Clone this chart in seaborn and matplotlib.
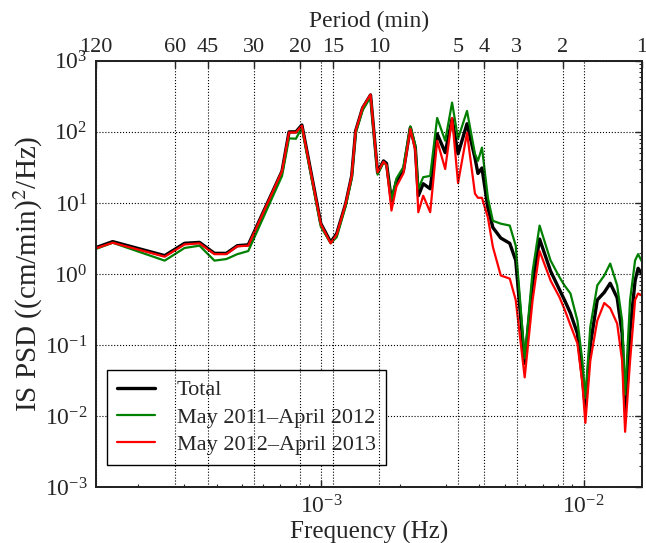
import numpy as np
import pandas as pd
import matplotlib
matplotlib.use("Agg")
import matplotlib.pyplot as plt
import seaborn as sns

# Frequency (Hz) of each read point
freq = [1.389e-4, 1.608e-4, 2.537e-4, 3.020e-4, 3.443e-4, 3.925e-4, 4.357e-4, 4.797e-4,
        5.280e-4, 7.10e-4, 7.55e-4, 8.02e-4, 8.45e-4, 9.98e-4, 1.088e-3, 1.147e-3,
        1.241e-3, 1.308e-3, 1.354e-3, 1.439e-3, 1.543e-3, 1.641e-3, 1.729e-3, 1.775e-3,
        1.854e-3, 1.936e-3, 2.058e-3, 2.188e-3, 2.285e-3, 2.346e-3, 2.449e-3, 2.604e-3,
        2.768e-3, 2.970e-3, 3.155e-3, 3.324e-3, 3.596e-3, 3.856e-3, 3.958e-3, 4.100e-3,
        4.320e-3, 4.512e-3, 4.836e-3, 5.232e-3, 5.513e-3, 5.964e-3, 6.394e-3, 6.796e-3,
        7.482e-3, 8.092e-3, 8.454e-3, 8.910e-3, 9.470e-3, 9.890e-3, 1.0153e-2, 1.0604e-2,
        1.1272e-2, 1.1984e-2, 1.2627e-2, 1.3421e-2, 1.4016e-2, 1.4389e-2, 1.5031e-2,
        1.5704e-2, 1.6122e-2, 1.6667e-2]

psd_total = [2.35, 2.85, 1.81, 2.7, 2.78, 1.95, 1.95, 2.5,
             2.57, 28, 100, 100, 125, 5.1, 2.8, 3.7,
             9.8, 24, 103, 217, 331, 26.8, 39, 36,
             10.7, 20, 28, 115, 60, 12.6, 18.6, 15.8,
             94, 51, 152, 49, 130, 43, 26, 31,
             8.5, 4.5, 3.2, 2.7, 1.55, 0.055, 0.74, 3.1,
             1.1, 0.6, 0.43, 0.28, 0.145, 0.035, 0.013, 0.1,
             0.43, 0.55, 0.74, 0.46, 0.145, 0.012, 0.16,
             0.8, 1.2, 1.0]

psd_2011 = [2.25, 2.75, 1.54, 2.32, 2.5, 1.54, 1.62, 1.9,
            2.1, 24, 81, 80, 115, 4.6, 2.7, 3.3,
            9.0, 22, 95, 200, 310, 25, 37, 34,
            11, 22, 32, 120, 65, 15.8, 23, 24,
            157, 75, 258, 80, 197, 49, 39, 60,
            11.7, 5.6, 5.1, 4.8, 2.5, 0.065, 1.1, 4.8,
            1.55, 0.9, 0.69, 0.53, 0.22, 0.06, 0.018, 0.18,
            0.69, 0.95, 1.4, 0.69, 0.22, 0.02, 0.43,
            1.55, 1.9, 1.5]

psd_2012 = [2.3, 2.75, 1.75, 2.6, 2.7, 1.9, 1.9, 2.45,
            2.5, 28, 98, 98, 122, 5.0, 2.7, 3.6,
            9.8, 24, 103, 220, 335, 27, 38, 34,
            7.8, 17, 26, 110, 55, 7.4, 12.6, 7.4,
            75, 30, 157, 19, 97, 13.5, 11.8, 11.8,
            6.2, 2.4, 0.95, 0.86, 0.43, 0.035, 0.43, 2.1,
            0.81, 0.47, 0.32, 0.19, 0.105, 0.029, 0.008, 0.06,
            0.22, 0.39, 0.33, 0.2, 0.06, 0.006, 0.06,
            0.43, 0.53, 0.5]

period_ticks = [120, 60, 45, 30, 20, 15, 10, 5, 4, 3, 2, 1]
series_labels = ["Total", "May 2011\u2013April 2012", "May 2012\u2013April 2013"]
series_colors = ["black", "green", "red"]

df = pd.DataFrame({"freq": freq, "Total": psd_total,
                   series_labels[1]: psd_2011, series_labels[2]: psd_2012})

sns.set_style("white")
plt.rcParams["font.family"] = ["Liberation Serif", "DejaVu Serif"]
plt.rcParams["mathtext.fontset"] = "stix"
plt.rcParams["xtick.direction"] = "in"
plt.rcParams["ytick.direction"] = "in"

fig = plt.figure(figsize=(6.46, 5.43), dpi=100)
ax = fig.add_axes([0.1486, 0.103, 0.845, 0.785])

cols = ["Total", series_labels[1], series_labels[2]]
widths = [2.4, 1.6, 1.6]
for c, lab, col, lw in zip(cols, series_labels, series_colors, widths):
    sns.lineplot(data=df, x="freq", y=c, color=col, lw=lw, label=lab, ax=ax,
                 estimator=None, sort=False)

ax.set_xscale("log")
ax.set_yscale("log")
xmin, xmax = 1.0 / (120 * 60), 1.0 / 60
ax.set_xlim(xmin, xmax)
ax.set_ylim(1e-3, 1e3)
ax.set_xlabel("Frequency (Hz)", fontsize=18, labelpad=2)
ax.set_ylabel("IS PSD ((cm/min)$^2$/Hz)", fontsize=21, labelpad=0)
ax.tick_params(axis="both", which="major", labelsize=17, length=5, width=1,
               top=True, right=True, direction="in", pad=6)
ax.tick_params(axis="both", which="minor", length=2.5, width=0.8,
               top=True, right=True, direction="in")
ax.grid(True, which="major", color="k", linestyle=":", linewidth=0.8)
for s in ax.spines.values():
    s.set_linewidth(1.3)
    s.set_color("#222222")

ax2 = ax.twiny()
ax2.set_xscale("log")
ax2.set_xlim(xmin, xmax)
ax2.set_xticks([1.0 / (p * 60) for p in period_ticks])
ax2.set_xticklabels([str(p) for p in period_ticks])
ax2.xaxis.set_minor_locator(matplotlib.ticker.NullLocator())
ax2.tick_params(axis="x", labelsize=16, length=5, width=1, direction="in", pad=3)
ax2.set_xlabel("Period (min)", fontsize=17, labelpad=8)
ax2.grid(True, axis="x", color="k", linestyle=":", linewidth=0.8)
for s in ax2.spines.values():
    s.set_linewidth(1.3)
    s.set_color("#222222")

leg = ax.legend(loc="lower left", bbox_to_anchor=(0.02, 0.052), fontsize=16,
                frameon=True, fancybox=False, edgecolor="black", framealpha=1,
                borderaxespad=0, handlelength=1.7, labelspacing=0.3,
                borderpad=0.45, handletextpad=1.0)
leg.get_frame().set_linewidth(1.0)

fig.savefig("out.png", dpi=100)
